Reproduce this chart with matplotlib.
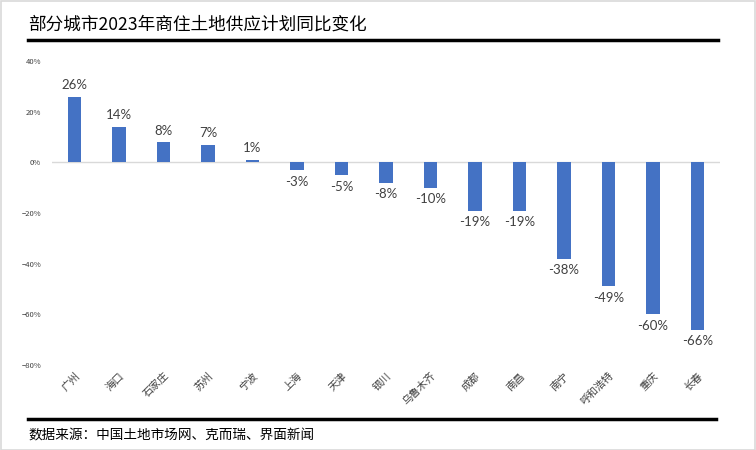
import matplotlib.pyplot as plt
from matplotlib.lines import Line2D
from matplotlib.patches import Rectangle
from matplotlib.ticker import PercentFormatter

plt.rcParams['font.family'] = ['Noto Sans CJK SC', 'DejaVu Sans']

# data
cities = ["广州", "海口", "石家庄", "苏州", "宁波", "上海", "天津", "银川",
          "乌鲁木齐", "成都", "南昌", "南宁", "呼和浩特", "重庆", "长春"]
changes = [26, 14, 8, 7, 1, -3, -5, -8, -10, -19, -19, -38, -49, -60, -66]
yticks = [40, 20, 0, -20, -40, -60, -80]

bar_color = "#4472C4"

fig = plt.figure(figsize=(7.56, 4.5), dpi=100)
ax = fig.add_axes([0.069, 0.189, 0.883, 0.675])

x = list(range(len(cities)))
ax.bar(x, changes, width=0.31, color=bar_color, zorder=2)
ax.axhline(0, color="#d9d9d9", lw=1, zorder=1)

for xi, v in zip(x, changes):
    if v >= 0:
        ax.annotate(f"{v}%", (xi, v), xytext=(0, 4), textcoords="offset points",
                    ha="center", va="bottom", fontsize=9.5, color="#404040",
                    family=["Lato", "DejaVu Sans"])
    else:
        ax.annotate(f"{v}%", (xi, v), xytext=(0, -4), textcoords="offset points",
                    ha="center", va="top", fontsize=9.5, color="#404040",
                    family=["Lato", "DejaVu Sans"])

ax.set_xlim(-0.5, len(cities) - 0.5)
ax.set_ylim(-80, 40)
ax.set_yticks(yticks)
ax.yaxis.set_major_formatter(PercentFormatter(decimals=0))
ax.tick_params(axis="y", length=0, labelsize=5.5, labelcolor="#404040", pad=8)
ax.set_xticks(x)
ax.set_xticklabels(cities, rotation=45, ha="right", rotation_mode="anchor",
                   fontsize=7.5, color="#404040")
ax.tick_params(axis="x", length=0, pad=4)
for s in ax.spines.values():
    s.set_visible(False)

# title, rules and source
fig.text(0.037, 0.945, "部分城市2023年商住土地供应计划同比变化", fontsize=12.7,
         ha="left", va="center", color="black")
fig.add_artist(Line2D([0.037, 0.95], [1 - 40 / 450, 1 - 40 / 450],
                      color="black", lw=2.5, transform=fig.transFigure))
fig.add_artist(Line2D([0.037, 0.947], [1 - 419 / 450, 1 - 419 / 450],
                      color="black", lw=2.5, transform=fig.transFigure))
fig.text(0.037, 1 - 435 / 450, "数据来源：中国土地市场网、克而瑞、界面新闻",
         fontsize=9.8, ha="left", va="center", color="black")
fig.add_artist(Rectangle((0.001, 0.001), 0.998, 0.997, fill=False,
                         edgecolor="#d9d9d9", lw=1.2, transform=fig.transFigure))

fig.savefig("out.png", dpi=100)
plt.close(fig)
